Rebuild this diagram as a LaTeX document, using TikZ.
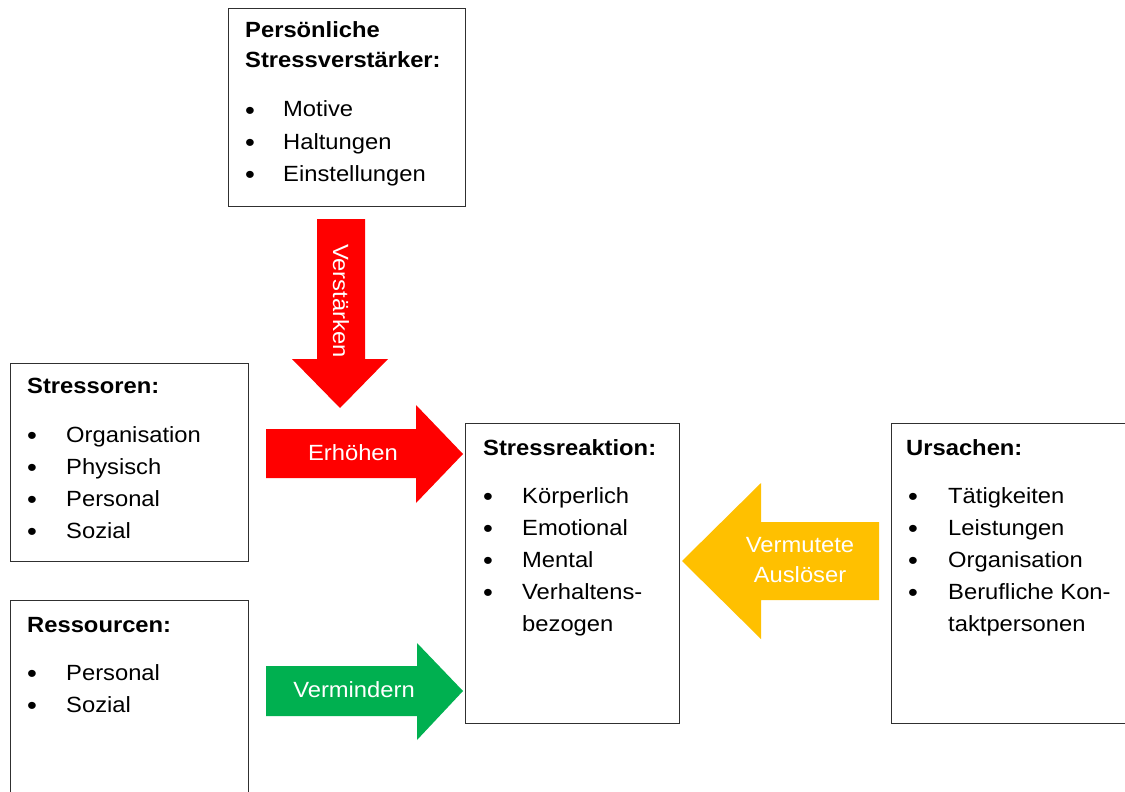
\documentclass[tikz,border=0pt]{standalone}
\usepackage{fontspec}
\setmainfont{Liberation Sans}[FakeStretch=1.08]
\definecolor{arrred}{HTML}{FF0000}
\definecolor{arrgreen}{HTML}{00B050}
\definecolor{arrgold}{HTML}{FFC000}
\definecolor{boxline}{HTML}{303030}
\tikzset{
  box/.style={draw=boxline, line width=1pt, anchor=north west, inner sep=0pt, rectangle},
  txt/.style={anchor=base west, inner sep=0pt, font=\fontsize{22}{26}\selectfont},
  ttl/.style={txt, font=\fontsize{22}{26}\selectfont\bfseries},
  bul/.style={anchor=base, inner sep=0pt, yshift=-2pt, font=\fontsize{26}{26}\selectfont},
  lbl/.style={inner sep=0pt, text=white, font=\fontsize{22}{30}\selectfont, align=center},
}
\begin{document}
\begin{tikzpicture}[x=1pt,y=-1pt]
\useasboundingbox (0,0) rectangle (1125,792);
\fill[white] (0,0) rectangle (1125,792);

% boxes
\node[box, minimum width=237pt, minimum height=198pt] (pers) at (228,8) {};
\node[box, minimum width=238pt, minimum height=198pt] (stressoren) at (10,363) {};
\node[box, minimum width=238pt, minimum height=200pt] (ressourcen) at (10,600) {};
\node[box, minimum width=214pt, minimum height=300pt] (reaktion) at (465,423) {};
\node[box, minimum width=240pt, minimum height=300pt] (ursachen) at (891,423) {};

% Persönliche Stressverstärker
\node[ttl] (persT1) at (245,38) {Persönliche};
\node[ttl] (persT2) at (245,68) {Stressverstärker:};
\foreach \t/\y [count=\i] in {Motive/117, Haltungen/149, Einstellungen/181}{
  \node[bul] (persB\i) at (250,\y) {\textbullet};
  \node[txt] (persI\i) at (283,\y) {\t};
}

% Stressoren
\node[ttl] (strT) at (27,393) {Stressoren:};
\foreach \t/\y [count=\i] in {Organisation/442, Physisch/474, Personal/506, Sozial/538}{
  \node[bul] (strB\i) at (32,\y) {\textbullet};
  \node[txt] (strI\i) at (66,\y) {\t};
}

% Ressourcen
\node[ttl] (resT) at (27,632) {Ressourcen:};
\foreach \t/\y [count=\i] in {Personal/680, Sozial/712}{
  \node[bul] (resB\i) at (32,\y) {\textbullet};
  \node[txt] (resI\i) at (66,\y) {\t};
}

% Stressreaktion
\node[ttl] (reaT) at (483,455) {Stressreaktion:};
\foreach \t/\y [count=\i] in {Körperlich/503, Emotional/535, Mental/567, Verhaltens-/599}{
  \node[bul] (reaB\i) at (488,\y) {\textbullet};
  \node[txt] (reaI\i) at (522,\y) {\t};
}
\node[txt] (reaI5) at (522,631) {bezogen};

% Ursachen
\node[ttl] (ursT) at (906,455) {Ursachen:};
\foreach \t/\y [count=\i] in {Tätigkeiten/503, Leistungen/535, Organisation/567, Berufliche Kon-/599}{
  \node[bul] (ursB\i) at (913,\y) {\textbullet};
  \node[txt] (ursI\i) at (948,\y) {\t};
}
\node[txt] (ursI5) at (948,631) {taktpersonen};

% block arrows
\fill[arrred] (317,219) -- (365,219) -- (365,359) -- (388,359) -- (340,408) -- (292,359) -- (317,359) -- cycle;
\node[lbl, rotate=-90] (verst) at (341,301) {Verstärken};

\fill[arrred] (266,429) -- (416,429) -- (416,405) -- (463,454) -- (416,503) -- (416,478) -- (266,478) -- cycle;
\node[lbl] (erh) at (353,453) {Erhöhen};

\fill[arrgreen] (266,666) -- (417,666) -- (417,643) -- (463,691) -- (417,740) -- (417,716) -- (266,716) -- cycle;
\node[lbl] (verm) at (354,690) {Vermindern};

\fill[arrgold] (879,522) -- (761,522) -- (761,483) -- (682,561) -- (761,639) -- (761,600) -- (879,600) -- cycle;
\node[lbl] (ausl) at (800,560) {Vermutete\\Auslöser};
\end{tikzpicture}
\end{document}
